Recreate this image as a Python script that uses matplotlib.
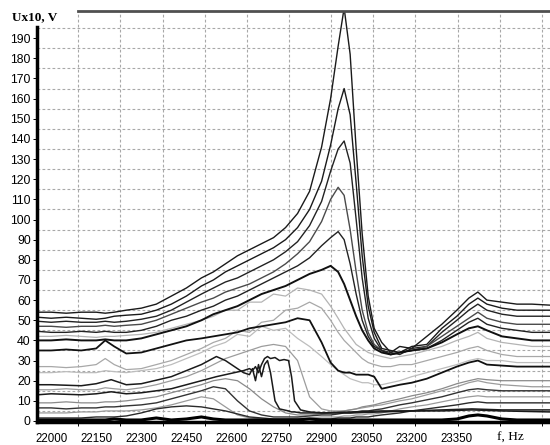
import matplotlib
matplotlib.use("Agg")
import matplotlib.pyplot as plt

# ===============================
# data
# ===============================
freq = [21955, 22000, 22050, 22100, 22150, 22180, 22210, 22250, 22300,
        22350, 22400, 22450, 22500, 22540, 22580, 22620, 22660, 22700,
        22740, 22780, 22820, 22860, 22900, 22930, 22955, 22975, 22995,
        23015, 23035, 23055, 23075, 23100, 23130, 23160, 23200, 23250,
        23300, 23350, 23390, 23420, 23450, 23500, 23550, 23600, 23660]

# resonance curves (dark)
a1 = [54, 54, 53.5, 54, 54, 53.5, 54, 55, 56,
      58, 62, 66, 71, 74, 78, 82, 85, 88,
      91, 96, 103, 114, 136, 160, 186, 205, 182,
      135, 93, 62, 46, 39, 34, 37, 36, 42,
      48, 55, 61, 64, 60, 59, 58, 58, 57.5]
a2 = [51.5, 51, 51.5, 51, 50.5, 51, 52, 52.5, 53,
      55, 58, 62, 67, 70, 74, 77, 80, 83,
      86, 90, 96, 105, 119, 137, 155, 165, 152,
      118, 82, 57, 44, 36, 35, 34, 37, 38,
      46, 52, 58, 61, 58, 56, 55, 55, 55]
a3 = [49.5, 49, 49.5, 49, 49, 49.5, 49, 49.5, 50.5,
      52, 55, 59, 63, 66, 69, 71, 74, 77,
      80, 84, 89, 97, 109, 124, 135, 139, 128,
      100, 71, 51, 41, 35, 34, 33, 36, 37,
      44, 50, 55, 58, 55, 53, 52, 52, 52]
a4 = [47, 47, 46.5, 47, 47, 47.5, 47, 47.5, 48,
      50, 53, 56, 59, 61, 64, 66, 68, 71,
      74, 78, 83, 89, 99, 110, 116, 112, 95,
      74, 55, 44, 38, 35, 33, 34, 35, 37,
      42, 47, 51, 54, 51, 49, 48, 48, 48]
a5 = [44.5, 44, 44, 44.5, 44, 44.5, 44, 44, 45,
      47, 50, 52, 55, 57, 60, 62, 65, 68,
      71, 74, 77, 81, 87, 91, 94, 90, 78,
      63, 50, 42, 37, 35, 33, 34, 35, 36,
      40, 45, 49, 51, 48, 46, 45, 44, 44]
a6 = [40, 40, 40.5, 40, 40, 40.5, 40, 40, 41,
      43, 45, 47, 50, 53, 55, 57, 60, 63,
      65, 67, 70, 73, 75, 77, 74, 68, 60,
      52, 45, 40, 36, 34, 33, 34, 35, 36,
      39, 43, 46, 47, 45, 42, 41, 40, 40]

# light grey curves
g1 = [42, 42, 42.5, 42, 41.5, 42, 42, 42.5, 43,
      44, 46, 48, 50, 52, 55, 55, 59, 59,
      63, 62, 66, 65, 63, 57, 51, 46, 42,
      38, 36, 34, 33, 32, 31, 32, 33, 35,
      37, 40, 42, 44, 41, 39, 38, 37, 37]
g2 = [27, 27, 26.5, 27, 28, 31, 28, 25.5, 26,
      28, 30, 33, 36, 39, 41, 45, 44, 49,
      50, 55, 56, 59, 56, 50, 44, 40, 37,
      34, 31, 29, 28, 27, 27, 28, 28, 30,
      32, 34, 36, 37, 35, 33, 32, 32, 32]
g3 = [24, 24, 24.5, 24, 24, 25, 24.5, 24, 25,
      26, 28, 31, 34, 37, 39, 43, 42, 47,
      45, 46, 41, 37, 32, 28, 25, 23, 21,
      20, 19, 19, 18, 18, 19, 20, 22, 24,
      26, 28, 30, 31, 30, 30, 29, 29, 29]
g4 = [15.5, 15.5, 16, 15.5, 15.5, 16.5, 16, 15.5, 16.5,
      18, 20, 22, 25, 28, 31, 33, 35, 37,
      38, 37, 30, 12, 6, 5, 5, 5, 5.5,
      6, 6.5, 7, 7.5, 8, 9, 10, 11, 13,
      15, 17, 19, 20, 19, 18, 17.5, 17, 17]

# black curve with hump at 22840
b1 = [35, 35, 35.5, 35, 36, 40, 37, 33.5, 34,
      36, 38, 40, 41, 42, 43, 44, 46, 47,
      48, 49, 51, 50, 39, 29, 25, 24, 24,
      23, 23, 23, 22, 16, 17, 18, 19, 21,
      24, 27, 29, 30, 28, 27.5, 27, 27, 27]

# lower curves
c1 = [9, 9, 9.5, 9, 9, 9.5, 9.5, 10, 11,
      12, 14, 16, 18, 20, 21, 20, 16, 11,
      7, 4, 3, 3, 3.5, 4, 4.5, 5, 5.5,
      6, 7, 7.5, 8, 9, 10, 11, 12.5, 14,
      16, 18.5, 20, 21, 20.5, 20, 20, 20, 20]
c2 = [6.5, 6.5, 6, 6.5, 6.5, 7, 7, 7.5, 8,
      9, 11, 13, 15, 17, 16, 10, 5, 3,
      2, 2, 2, 2.5, 3, 3, 3.5, 4, 4,
      4.5, 5, 5, 5.5, 6, 7, 8, 9, 10.5,
      12, 14, 15.5, 16, 15.5, 15, 15, 15, 15]
c3 = [4, 4, 4, 4.5, 4.5, 5, 5, 5, 5.5,
      6.5, 8, 10, 12, 11, 7, 3, 1.5, 1,
      1, 1, 1.5, 1.5, 2, 2, 2, 2.5, 2.5,
      3, 3, 3.5, 3.5, 4, 5, 6, 7, 8,
      9.5, 11, 12, 12.5, 12, 12, 12, 12, 12]
c4 = [1.5, 1.5, 1.5, 1.5, 2, 2, 2, 2.5, 4,
      6, 7, 7.5, 7, 6, 5, 3.5, 2, 1.5,
      1, 1, 1, 1, 1, 1, 1.5, 1.5, 1.5,
      2, 2, 2, 2.5, 3, 3.5, 4, 5, 6,
      7, 8, 9, 9.5, 9, 9, 9, 9, 9]
c5 = [0.5, 0.5, 0.5, 0.5, 0.5, 0.5, 1, 0.5, 0.5,
      1.5, 0.5, 1, 2, 1, 0.5, 0.5, 0.5, 0.5,
      0.5, 0.5, 0.5, 1, 0.5, 0.5, 0.5, 0.5, 0.5,
      0.5, 0.5, 0.5, 0.5, 0.5, 0.5, 0.5, 0.5, 0.5,
      0.5, 1, 2.5, 3, 2.5, 1, 0.5, 0.5, 0.5]

# two jagged black curves that fall off around 22750 / 22800
jag_f = [21955, 22000, 22100, 22150, 22200, 22250, 22300, 22400, 22450, 22500,
         22550, 22580, 22610, 22640, 22660, 22670, 22680, 22690, 22700, 22710,
         22720, 22730, 22745, 22760, 22775, 22790, 22800, 22810, 22830, 22860,
         22900, 23000, 23100, 23200, 23300, 23400, 23500, 23660]
b2 = [18, 18, 17.5, 18.5, 20.5, 18, 18.5, 22, 25, 28,
      32, 30, 27, 24, 23, 26, 20, 28, 22, 28,
      30, 24, 10, 6, 5.5, 5, 4.5, 4.5, 4, 4,
      4, 4, 4.5, 5, 5, 5.5, 5, 4.5]
b3 = [13, 13.5, 13, 13.5, 14.5, 13.5, 14, 16, 18, 20,
      22, 23, 24, 25, 26, 25, 27, 24, 28, 31,
      32, 31, 31.5, 30, 30.5, 30, 22, 10, 5.5, 4.5,
      4, 4.5, 5, 5, 5.5, 6, 5.5, 5.5]

y_ticks = list(range(0, 200, 10))
x_ticks = [22000, 22150, 22300, 22450, 22600, 22750, 22900, 23050, 23200, 23350]

# ===============================
# plot
# ===============================
fig = plt.figure(figsize=(5.5, 4.45), dpi=100)
ax = fig.add_axes([37 / 550, 23 / 445, 513 / 550, 411 / 445])

grey_curves = [(g1, "#b4b4b4"), (g2, "#a8a8a8"), (g3, "#bdbdbd"), (g4, "#9c9c9c"),
               (c1, "#8a8a8a"), (c3, "#9a9a9a")]
for vals, col in grey_curves:
    ax.plot(freq, vals, color=col, lw=0.9)

dark_curves = [(a1, "#1a1a1a", 1.0), (a2, "#1a1a1a", 1.0), (a3, "#222222", 1.0),
               (a4, "#4a4a4a", 1.0), (a5, "#222222", 1.0), (a6, "#111111", 1.4),
               (b1, "#111111", 1.3), (c2, "#333333", 1.0), (c4, "#2a2a2a", 1.0),
               (c5, "#000000", 2.2)]
for vals, col, w in dark_curves:
    ax.plot(freq, vals, color=col, lw=w)

ax.plot(jag_f, b2, color="#1a1a1a", lw=1.1)
ax.plot(jag_f, b3, color="#1a1a1a", lw=1.1)

ax.set_xlim(21953, 23660)
ax.set_ylim(-0.5, 203.5)

# labelled ticks and grid lines sit at different places in the original
ax.set_xticks(x_ticks)
ax.set_xticklabels([str(v) for v in x_ticks])
ax.set_yticks(y_ticks)
ax.set_yticklabels([str(v) for v in y_ticks])
ax.set_xticks([22090 + 140.3 * k for k in range(12)], minor=True)
ax.set_yticks([5 + 10 * k for k in range(20)], minor=True)
ax.grid(which="major", visible=False)
ax.grid(which="minor", color="#a8a8a8", lw=0.8, linestyle=(0, (2.5, 2)))

ax.tick_params(axis="x", which="major", length=0, pad=8, labelsize=8.3)
ax.tick_params(axis="x", which="minor", length=3, width=0.7, direction="out")
ax.tick_params(axis="y", which="major", length=3, width=0.7, direction="out",
               pad=1.5, labelsize=8.8)
ax.tick_params(axis="y", which="minor", length=0)
for lab in ax.get_xticklabels() + ax.get_yticklabels():
    lab.set_family("Liberation Sans")

ax.spines["right"].set_visible(False)
ax.spines["left"].set_linewidth(2.5)
ax.spines["left"].set_bounds(-0.5, 195.5)
ax.spines["bottom"].set_linewidth(2.5)
ax.spines["top"].set_linewidth(2)
ax.spines["top"].set_color("#505050")
ax.spines["top"].set_bounds(22090, 23660)

fig.text(35 / 550, 1 - 17 / 445, "Ux10, V", ha="center", va="center",
         family="Liberation Serif", fontweight="bold", fontsize=9.5)
fig.text(510 / 550, 1 - 438 / 445, "f, Hz", ha="center", va="center",
         family="Liberation Serif", fontsize=9.5)

fig.savefig("out.png", dpi=100)
